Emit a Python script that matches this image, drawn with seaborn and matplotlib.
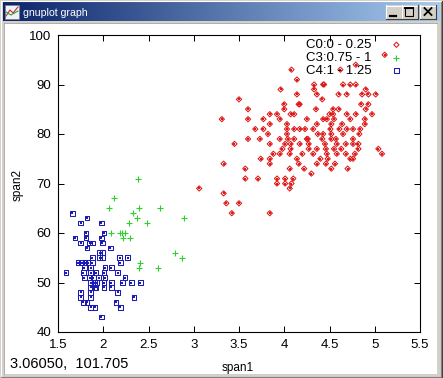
import numpy as np
import pandas as pd
import matplotlib
matplotlib.use("Agg")
import matplotlib.pyplot as plt
import seaborn as sns
from matplotlib.patches import Rectangle
from matplotlib.colors import LinearSegmentedColormap

# ---------------- data ----------------
red_x = [5.11,
         4.79,
         4.08, 4.62,
         4.14,
         4.33, 4.43, 4.44, 4.65, 4.73, 4.79,
         3.96, 4.33, 4.90,
         4.14, 4.36, 4.60, 4.69, 4.86, 4.93, 5.01,
         3.50, 4.42,
         4.00, 4.16, 4.17, 4.85, 4.93,
         3.60, 4.00, 4.35, 4.54, 4.60, 4.90,
         3.84, 3.92, 4.07, 4.11, 4.50, 4.54, 4.69, 4.79, 4.97,
         3.31, 3.60, 3.77, 3.95, 4.25, 4.43, 4.47, 4.55, 4.73, 4.89,
         3.84, 4.03, 4.36, 4.52, 4.64, 4.89,
         3.68, 3.77, 4.03, 4.11, 4.17, 4.23, 4.32, 4.51, 4.61, 4.69, 4.76, 4.84,
         3.82, 4.03, 4.37, 4.43, 4.52, 4.65, 4.83,
         3.60, 3.73, 3.95, 4.04, 4.11, 4.25, 4.26, 4.42, 4.52, 4.57, 4.76,
         3.45, 3.84, 4.01, 4.07, 4.17, 4.27, 4.45, 4.58, 4.68, 4.76, 4.82,
         3.98, 4.07, 4.27, 4.36, 4.46, 4.55, 4.63, 4.82, 5.04,
         3.88, 3.95, 4.06, 4.20, 4.32, 4.47, 4.58, 4.68, 4.78, 5.08,
         3.74, 3.84, 4.14, 4.40, 4.48, 4.73, 4.76,
         3.33, 3.84, 4.16, 4.36, 4.46, 4.56,
         3.57, 4.06, 4.22, 4.52, 4.70,
         4.30,
         3.57, 3.71, 3.92, 4.01, 4.10,
         3.92, 4.01, 4.08,
         3.06, 4.06,
         3.33,
         3.36, 3.50,
         3.42, 3.84]
red_y = [96,
         94,
         93, 93,
         91,
         90, 90, 90, 90, 90, 90,
         89, 89, 89,
         88, 88, 88, 88, 88, 88, 88,
         87, 87,
         86, 86, 86, 86, 86,
         85, 85, 85, 85, 85, 85,
         84, 84, 84, 84, 84, 84, 84, 84, 84,
         83, 83, 83, 83, 83, 83, 83, 83, 83, 83,
         82, 82, 82, 82, 82, 82,
         81, 81, 81, 81, 81, 81, 81, 81, 81, 81, 81, 81,
         80, 80, 80, 80, 80, 80, 80,
         79, 79, 79, 79, 79, 79, 79, 79, 79, 79, 79,
         78, 78, 78, 78, 78, 78, 78, 78, 78, 78, 78,
         77, 77, 77, 77, 77, 77, 77, 77, 77,
         76, 76, 76, 76, 76, 76, 76, 76, 76, 76,
         75, 75, 75, 75, 75, 75, 75,
         74, 74, 74, 74, 74, 74,
         73, 73, 73, 73, 73,
         72,
         71, 71, 71, 71, 71,
         70, 70, 70,
         69, 69,
         68,
         66, 66,
         64, 64]

green_x = [2.38, 2.12, 2.06, 2.40, 2.63, 2.33, 2.37, 2.89, 2.28, 2.48,
           2.09, 2.19, 2.21, 2.24, 2.22, 2.30, 2.79, 2.87, 2.41, 2.40, 2.61]
green_y = [71, 67, 65, 65, 65, 64, 63, 63, 62, 62,
           60, 60, 60, 60, 59, 59, 56, 55, 54, 53, 53]

blue_x = [1.66, 1.82, 1.75, 1.98, 1.81, 2.01, 1.69, 1.81, 1.98, 1.75,
          1.85, 1.88, 1.99, 1.82, 2.08, 1.96, 1.99, 1.88, 1.96, 1.99,
          2.18, 2.27, 1.72, 1.76, 1.80, 1.83, 1.88, 2.19, 1.79, 1.86,
          2.02, 2.09, 1.59, 1.78, 1.86, 1.92, 2.01, 2.16, 1.79, 1.85,
          1.89, 1.95, 2.02, 2.24, 1.86, 1.90, 1.93, 2.01, 2.09, 2.21,
          2.31, 2.41, 1.86, 1.90, 1.92, 2.01, 2.09, 1.75, 1.86, 2.16,
          1.75, 1.86, 2.34, 1.78, 1.82, 2.14, 1.86, 1.91, 2.19, 1.98]
blue_y = [64, 63, 62, 62, 60, 60, 59, 59, 59, 58,
          58, 58, 58, 57, 57, 56, 56, 55, 55, 55,
          55, 55, 54, 54, 54, 54, 54, 54, 53, 53,
          53, 53, 52, 52, 52, 52, 52, 52, 51, 51,
          51, 51, 51, 51, 50, 50, 50, 50, 50, 50,
          50, 50, 49, 49, 49, 49, 49, 48, 48, 48,
          47, 47, 47, 46, 46, 46, 45, 45, 45, 43]

series_labels = ["C0:0 - 0.25", "C3:0.75 - 1", "C4:1 - 1.25"]
x_ticks = [1.5, 2, 2.5, 3, 3.5, 4, 4.5, 5, 5.5]
x_tick_labels = ["1.5", "2", "2.5", "3", "3.5", "4", "4.5", "5", "5.5"]
y_ticks = [40, 50, 60, 70, 80, 90, 100]
x_label = "span1"
y_label = "span2"
window_title = "gnuplot graph"
status_text = "3.06050,  101.705"

# ---------------- style ----------------
plt.rcParams["font.family"] = ["Liberation Sans", "DejaVu Sans"]
RED, GREEN, BLUE = "#E01818", "#2ED02E", "#1C1CB4"
W, H = 443, 378

fig = plt.figure(figsize=(W / 100, H / 100), dpi=100)
fig.patch.set_facecolor("#D4D0C8")

# window chrome (pixel coordinates)
chrome = fig.add_axes([0, 0, 1, 1])
chrome.axis("off")
cmap = LinearSegmentedColormap.from_list("tb", ["#0A246A", "#A6CAF0"])
chrome.imshow(np.linspace(0, 1, 256).reshape(1, -1), extent=[3, 440, 21.5, 3],
              aspect="auto", cmap=cmap, interpolation="bilinear", zorder=1)
chrome.set_xlim(0, W)
chrome.set_ylim(H, 0)
# outer 3D frame
chrome.plot([1, W - 1.5], [1, 1], color="white", lw=0.8)
chrome.plot([1, 1], [1, H - 1.5], color="white", lw=0.8)
chrome.plot([0.5, W - 0.5], [H - 0.5, H - 0.5], color="#404040", lw=0.8)
chrome.plot([W - 0.5, W - 0.5], [0.5, H - 0.5], color="#404040", lw=0.8)
chrome.plot([1.5, W - 1.5], [H - 1.5, H - 1.5], color="#808080", lw=0.8)
chrome.plot([W - 1.5, W - 1.5], [1.5, H - 1.5], color="#808080", lw=0.8)
# icon
chrome.add_patch(Rectangle((5, 5), 14, 14, fc="#F0F0F8", ec="#808080", lw=0.5, zorder=2))
chrome.plot([6, 10, 13, 18], [16, 10, 13, 7], color="#C03030", lw=0.8, zorder=3)
chrome.plot([6, 11, 18], [12, 15, 11], color="#30A030", lw=0.8, zorder=3)
# title
chrome.text(23, 12.5, window_title, color="white", fontsize=7.6,
            va="center", ha="left", zorder=3)
# buttons
for x0 in (386, 402, 420):
    chrome.add_patch(Rectangle((x0, 5), 16, 14, fc="#D4D0C8", ec="none", zorder=2))
    chrome.plot([x0, x0 + 15.5], [5.5, 5.5], color="white", lw=0.8, zorder=3)
    chrome.plot([x0 + 0.5, x0 + 0.5], [5, 18.5], color="white", lw=0.8, zorder=3)
    chrome.plot([x0, x0 + 16], [18.7, 18.7], color="#404040", lw=0.8, zorder=3)
    chrome.plot([x0 + 15.7, x0 + 15.7], [5, 19], color="#404040", lw=0.8, zorder=3)
chrome.plot([390, 396], [15.5, 15.5], color="black", lw=1.6, zorder=4)
chrome.add_patch(Rectangle((405.5, 7.5), 8, 8, fill=False, ec="black", lw=0.8, zorder=4))
chrome.plot([405.5, 413.5], [8, 8], color="black", lw=1.4, zorder=4)
chrome.plot([424.5, 431.5], [8, 15], color="black", lw=1.3, zorder=4)
chrome.plot([424.5, 431.5], [15, 8], color="black", lw=1.3, zorder=4)
# client area
chrome.add_patch(Rectangle((4, 23), 433, 351, fc="white", ec="none", zorder=1))
chrome.plot([4, 437], [23, 23], color="#A0A0A0", lw=0.6, zorder=2)
chrome.plot([4, 4], [23, 374], color="#A0A0A0", lw=0.6, zorder=2)
chrome.text(10, 364, status_text, fontsize=10.5, va="center", ha="left", zorder=3)

# ---------------- plot ----------------
ax = fig.add_axes([58 / W, 1 - 332 / H, 362 / W, 297 / H])
ax.set_facecolor("none")

df_red = pd.DataFrame({"span1": red_x, "span2": red_y})
df_green = pd.DataFrame({"span1": green_x, "span2": green_y})
df_blue = pd.DataFrame({"span1": blue_x, "span2": blue_y})

sns.scatterplot(data=df_red, x="span1", y="span2", ax=ax, marker="D", s=7,
                color=RED, facecolor="none", edgecolor=RED, linewidth=0.75,
                label=series_labels[0], zorder=3)
sns.scatterplot(data=df_green, x="span1", y="span2", ax=ax, marker="+", s=22,
                color=GREEN, linewidth=0.8, label=series_labels[1], zorder=3)
sns.scatterplot(data=df_blue, x="span1", y="span2", ax=ax, marker="s", s=11,
                color=BLUE, facecolor="none", edgecolor=BLUE, linewidth=0.75,
                label=series_labels[2], zorder=3)
# centre dots of the gnuplot point symbols
sns.scatterplot(data=df_red, x="span1", y="span2", ax=ax, marker="s", s=0.6,
                color=RED, linewidth=0, legend=False, zorder=4)
sns.scatterplot(data=df_blue, x="span1", y="span2", ax=ax, marker="s", s=0.6,
                color=BLUE, linewidth=0, legend=False, zorder=4)

ax.set_xlim(1.5, 5.5)
ax.set_ylim(40, 100)
ax.set_xticks(x_ticks)
ax.set_xticklabels(x_tick_labels)
ax.set_yticks(y_ticks)
ax.set_yticklabels([str(v) for v in y_ticks])
ax.tick_params(direction="in", length=4.3, width=0.72, top=True, right=True,
               labelsize=9.5, pad=5, colors="black")
for sp in ax.spines.values():
    sp.set_linewidth(0.8)
    sp.set_color("black")

ax.set_xlabel(x_label, fontsize=8.5)
ax.xaxis.set_label_coords((238 - 58) / 362, -(368 - 332) / 297)
ax.xaxis.label.set_va("center")
ax.set_ylabel(y_label, fontsize=8.5)
ax.yaxis.set_label_coords(-(58 - 18) / 362, (332 - 185) / 297)
ax.yaxis.label.set_va("center")

leg = ax.legend(loc="upper right", bbox_to_anchor=((403 - 58) / 362, 1 - 4 / 297),
                frameon=False, markerfirst=False, fontsize=9.5, handlelength=1.0,
                handletextpad=1.4, labelspacing=0.05, borderpad=0, borderaxespad=0)

fig.savefig("out.png", dpi=100, facecolor=fig.get_facecolor())
